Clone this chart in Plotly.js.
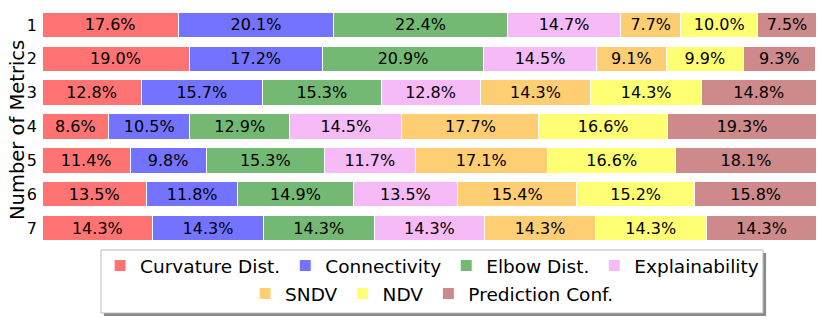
<!DOCTYPE html>
<html>
<head>
<meta charset="utf-8">
<script src="https://cdn.plot.ly/plotly-3.0.1.min.js"></script>
<style>
  body { margin: 0; background: #fff; }
  #chart { width: 826px; height: 322px; }
</style>
</head>
<body>
<div id="chart"></div>
<script>
// Rows: number of metrics, top to bottom
const rows = [1, 2, 3, 4, 5, 6, 7];

// Share (%) of each metric per row
const curvatureDist = [17.6, 19.0, 12.8, 8.6, 11.4, 13.5, 14.3];
const connectivity = [20.1, 17.2, 15.7, 10.5, 9.8, 11.8, 14.3];
const elbowDist = [22.4, 20.9, 15.3, 12.9, 15.3, 14.9, 14.3];
const explainability = [14.7, 14.5, 12.8, 14.5, 11.7, 13.5, 14.3];
const sndv = [7.7, 9.1, 14.3, 17.7, 17.1, 15.4, 14.3];
const ndv = [10.0, 9.9, 14.3, 16.6, 16.6, 15.2, 14.3];
const predictionConf = [7.5, 9.3, 14.8, 19.3, 18.1, 15.8, 14.3];

const seriesNames = ['Curvature Dist.', 'Connectivity', 'Elbow Dist.', 'Explainability',
                     'SNDV', 'NDV', 'Prediction Conf.'];
const seriesValues = [curvatureDist, connectivity, elbowDist, explainability, sndv, ndv, predictionConf];
const seriesColors = ['#ff7373', '#7373ff', '#73b973', '#f6baf6', '#ffce73', '#ffff73', '#ce8a8a'];

const font = 'DejaVu Sans, sans-serif';

const traces = seriesValues.map((vals, i) => ({
    type: 'bar',
    orientation: 'h',
    name: seriesNames[i],
    x: vals,
    y: rows,
    width: 0.75,
    marker: { color: seriesColors[i], line: { color: '#ffffff', width: 1 } },
    texttemplate: '%{x:.1f}%',
    textposition: 'inside',
    insidetextanchor: 'middle',
    constraintext: 'none',
    textfont: { family: font, size: 16, color: '#000000' },
    legend: i < 4 ? 'legend' : 'legend2',
    hoverinfo: 'name+x'
}));

const legendBase = {
    orientation: 'h',
    xref: 'paper',
    x: 0.504,
    xanchor: 'center',
    yref: 'container',
    yanchor: 'middle',
    bgcolor: 'rgba(0,0,0,0)',
    borderwidth: 0,
    font: { family: font, size: 18.5, color: '#000000' },
    traceorder: 'normal',
    itemclick: false
};

const layout = {
    width: 826,
    height: 322,
    margin: { l: 42, r: 10, t: 8, b: 77 },
    paper_bgcolor: '#ffffff',
    plot_bgcolor: '#ffffff',
    barmode: 'stack',
    bargap: 0.25,
    font: { family: font, size: 16, color: '#000000' },
    xaxis: {
        range: [0, 100],
        showticklabels: false,
        showgrid: false,
        zeroline: false,
        showline: false,
        ticks: ''
    },
    yaxis: {
        range: [7.5, 0.5],
        tickvals: rows,
        ticktext: rows.map(String),
        showgrid: false,
        zeroline: false,
        showline: false,
        ticks: '',
        ticklabelstandoff: 4,
        tickfont: { family: font, size: 16 },
        automargin: false
    },
    annotations: [{
        // y-axis title
        text: 'Number of Metrics',
        xref: 'paper', yref: 'paper',
        x: -0.0323, y: 0.485,
        xanchor: 'center', yanchor: 'middle',
        textangle: -90,
        showarrow: false,
        font: { family: font, size: 19.5, color: '#000000' }
    }],
    legend: Object.assign({}, legendBase, { y: 1 - 266 / 322 }),
    legend2: Object.assign({}, legendBase, { y: 1 - 294 / 322 }),
    shapes: [
        {   // legend shadow
            type: 'rect', xref: 'paper', yref: 'paper', layer: 'below',
            x0: 0.0800, x1: 0.9355, y0: -0.034, y1: -0.300,
            fillcolor: '#8a8a8a', line: { width: 0 }
        },
        {   // legend frame
            type: 'rect', xref: 'paper', yref: 'paper', layer: 'below',
            x0: 0.0762, x1: 0.9315, y0: -0.021, y1: -0.287,
            fillcolor: '#ffffff', line: { color: '#bbbbbb', width: 1 }
        }
    ]
};

Plotly.newPlot('chart', traces, layout, { displayModeBar: false, staticPlot: true });
</script>
</body>
</html>
